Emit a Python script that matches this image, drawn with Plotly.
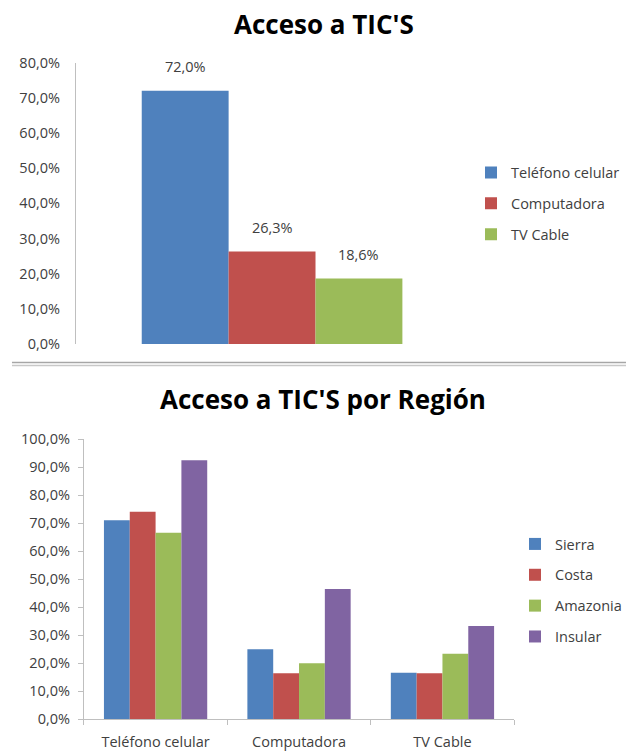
import plotly.graph_objects as go

# top chart data
items = ["Teléfono celular", "Computadora", "TV Cable"]
acceso = [72.0, 26.3, 18.6]

# bottom chart data, by region
regions = ["Sierra", "Costa", "Amazonia", "Insular"]
sierra = [71.0, 24.9, 16.5]
costa = [74.0, 16.3, 16.3]
amazonia = [66.5, 19.9, 23.3]
insular = [92.4, 46.4, 33.2]

colors = ["#4F81BD", "#C0504D", "#9BBB59", "#8064A2"]
tick_color = "#404040"
axis_color = "#BFBFBF"
font_name = "Open Sans"
fs = 14.5

fig = go.Figure()

# top chart: bars touch each other, one trace per item for the legend
for i, (name, val) in enumerate(zip(items, acceso)):
    fig.add_trace(go.Bar(
        x=[name], y=[val], name=name, width=1, offset=-0.5,
        marker=dict(color=colors[i], line=dict(width=0)),
        xaxis="x", yaxis="y", legend="legend", legendgroup="t%d" % i,
    ))
    # value label above the bar
    fig.add_annotation(x=name, y=val, xref="x", yref="y", yshift=24,
                       text=("%.1f%%" % val).replace(".", ","), showarrow=False,
                       font=dict(size=fs, color=tick_color, family=font_name))

# bottom chart: grouped by item
for i, (name, vals) in enumerate(zip(regions, [sierra, costa, amazonia, insular])):
    fig.add_trace(go.Bar(
        x=items, y=vals, name=name,
        marker=dict(color=colors[i], line=dict(width=0)),
        xaxis="x2", yaxis="y2", legend="legend2", legendgroup="b%d" % i,
    ))

W, H = 627, 751

def px_x(p):
    return p / W

def px_y(p):
    return (H - p) / H

fig.update_layout(
    width=W, height=H,
    margin=dict(l=0, r=0, t=0, b=0),
    paper_bgcolor="white", plot_bgcolor="white",
    separators=",.",
    font=dict(family=font_name, size=fs, color=tick_color),
    barmode="group",
    bargap=0.28, bargroupgap=0,
    showlegend=True,
    xaxis=dict(domain=[px_x(76), px_x(469)], range=[-1.258, 3.258],
               showticklabels=False, showline=False, automargin=False,
               showgrid=False, zeroline=False, ticks=""),
    yaxis=dict(domain=[px_y(344), px_y(62.7)], range=[0, 80], dtick=10,
               tickformat=".1f", ticksuffix="%", showgrid=False, zeroline=False,
               showline=True, linecolor=axis_color, linewidth=1, ticks="",
               ticklabelstandoff=12, tickfont=dict(size=fs, color=tick_color),
               automargin=False, anchor="x"),
    xaxis2=dict(domain=[px_x(84), px_x(515)], showline=True, linecolor=axis_color,
                showgrid=False, zeroline=False, ticks="outside", tickson="boundaries",
                ticklen=5, tickcolor=axis_color, ticklabelstandoff=10,
                tickfont=dict(size=fs, color=tick_color), automargin=False,
                anchor="y2"),
    yaxis2=dict(domain=[px_y(719), px_y(439)], range=[0, 100], dtick=10,
                tickformat=".1f", ticksuffix="%", showgrid=False, zeroline=False,
                showline=True, linecolor=axis_color, linewidth=1, ticks="outside",
                ticklen=5, tickcolor=axis_color, ticklabelstandoff=5,
                tickfont=dict(size=fs, color=tick_color), automargin=False,
                anchor="x2"),
    legend=dict(x=px_x(471), xanchor="left", y=px_y(203.5), yanchor="middle",
                font=dict(size=fs, color=tick_color), tracegroupgap=9,
                bgcolor="rgba(0,0,0,0)"),
    legend2=dict(x=px_x(516), xanchor="left", y=px_y(590.5), yanchor="middle",
                 font=dict(size=fs, color=tick_color), tracegroupgap=9,
                 bgcolor="rgba(0,0,0,0)"),
)

# titles
fig.add_annotation(text="<b>Acceso a TIC'S</b>", x=px_x(325), y=px_y(24),
                   xref="paper", yref="paper", showarrow=False, yanchor="middle",
                   font=dict(size=26, color="black", family=font_name))
fig.add_annotation(text="<b>Acceso a TIC'S por Región</b>", x=px_x(324), y=px_y(399),
                   xref="paper", yref="paper", showarrow=False, yanchor="middle",
                   font=dict(size=26, color="black", family=font_name))

# double separator line between the two charts
for yy, c in [(362.5, "#A6A6A6"), (365.5, "#C8C8C8")]:
    fig.add_shape(type="line", xref="paper", yref="paper",
                  x0=px_x(12), x1=1, y0=px_y(yy), y1=px_y(yy),
                  line=dict(color=c, width=1.5))

fig.write_html("out.html", config={"displayModeBar": False},
               post_script="document.body.style.margin='0';")
